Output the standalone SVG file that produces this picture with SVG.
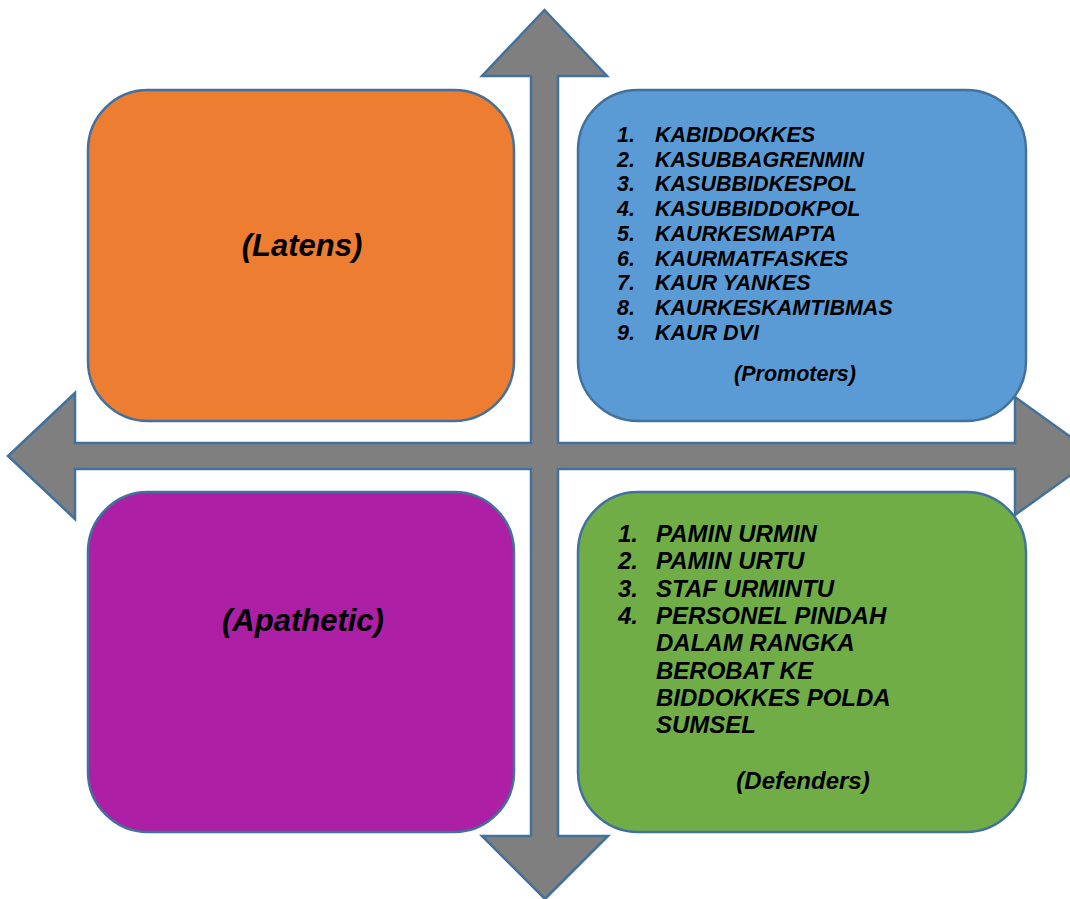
<svg xmlns="http://www.w3.org/2000/svg" width="1070" height="899" viewBox="0 0 1070 899">
  <style>
    .box { stroke: #41719C; stroke-width: 2.5; }
    .arrow { fill: #7F7F7F; stroke: #41719C; stroke-width: 2.5; stroke-linejoin: miter; }
    text { font-family: "Liberation Sans", Arial, sans-serif; font-weight: bold; font-style: italic; fill: #000; }
    .title { font-size: 31px; text-anchor: middle; }
    .item { font-size: 21.5px; }
    .item-lg { font-size: 24px; }
    .tag { text-anchor: middle; }
  </style>
  <rect width="1070" height="899" fill="#FFFFFF"/>

  <!-- four-way arrow (axes) -->
  <g id="connectors">
    <polygon class="arrow" points="544.5,10 607,76 558,76 558,443 1015,443 1015,397 1097,456 1015,515 1015,469 558,469 558,836 608,836 545,899 482,836 531,836 531,469 75,469 75,519 8,456 75,393 75,443 531,443 531,76 482,76"/>
  </g>

  <g id="latens">
    <rect class="box" x="88" y="90" width="426" height="331" rx="60" ry="60" fill="#ED7D31"/>
    <text class="title" x="302" y="256">(Latens)</text>
  </g>

  <g id="promoters">
    <rect class="box" x="578" y="90" width="448" height="331" rx="60" ry="60" fill="#5B9BD5"/>
    <g class="item">
      <text x="617" y="142">1.</text><text x="655" y="142">KABIDDOKKES</text>
      <text x="617" y="167">2.</text><text x="655" y="167">KASUBBAGRENMIN</text>
      <text x="617" y="191">3.</text><text x="655" y="191">KASUBBIDKESPOL</text>
      <text x="617" y="216">4.</text><text x="655" y="216">KASUBBIDDOKPOL</text>
      <text x="617" y="241">5.</text><text x="655" y="241">KAURKESMAPTA</text>
      <text x="617" y="266">6.</text><text x="655" y="266">KAURMATFASKES</text>
      <text x="617" y="290">7.</text><text x="655" y="290">KAUR YANKES</text>
      <text x="617" y="315">8.</text><text x="655" y="315">KAURKESKAMTIBMAS</text>
      <text x="617" y="340">9.</text><text x="655" y="340">KAUR DVI</text>
    </g>
    <text class="tag" x="795" y="381" style="font-size:21.5px">(Promoters)</text>
  </g>

  <g id="apathetic">
    <rect class="box" x="88" y="492" width="426" height="340" rx="60" ry="60" fill="#AD1FA5"/>
    <text class="title" x="303" y="631">(Apathetic)</text>
  </g>

  <g id="defenders">
    <rect class="box" x="578" y="492" width="448" height="340" rx="60" ry="60" fill="#70AD47"/>
    <g class="item-lg">
      <text x="618" y="542">1.</text><text x="656" y="542">PAMIN URMIN</text>
      <text x="618" y="569">2.</text><text x="656" y="569">PAMIN URTU</text>
      <text x="618" y="597">3.</text><text x="656" y="597">STAF URMINTU</text>
      <text x="618" y="624">4.</text><text x="656" y="624">PERSONEL PINDAH</text>
      <text x="656" y="651">DALAM RANGKA</text>
      <text x="656" y="679">BEROBAT KE</text>
      <text x="656" y="706">BIDDOKKES POLDA</text>
      <text x="656" y="733">SUMSEL</text>
    </g>
    <text class="tag" x="803" y="789" style="font-size:24px">(Defenders)</text>
  </g>
</svg>
